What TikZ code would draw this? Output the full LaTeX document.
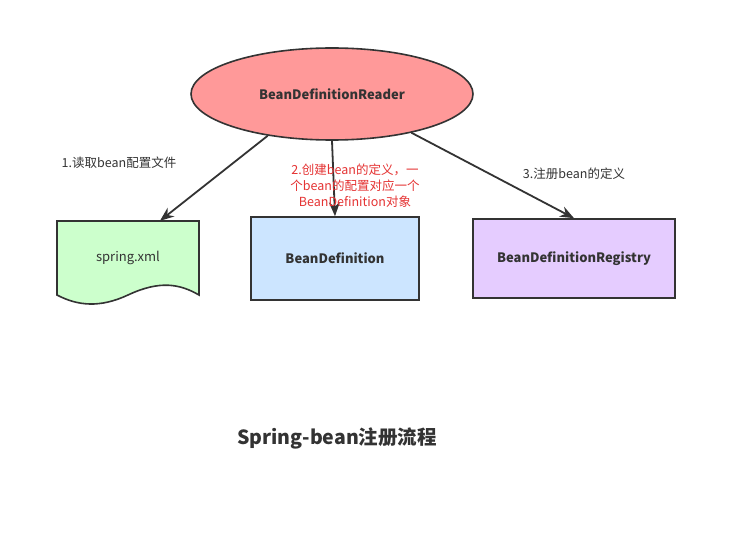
\documentclass[tikz,border=0pt]{standalone}
\usepackage{fontspec}
\setmainfont{Noto Sans CJK SC}
\usepackage{tikz}
\usetikzlibrary{shapes.geometric,arrows.meta}
\definecolor{linegray}{HTML}{333333}
\definecolor{readerred}{HTML}{FF9999}
\definecolor{xmlgreen}{HTML}{CCFFCC}
\definecolor{defblue}{HTML}{CCE5FF}
\definecolor{regpurple}{HTML}{E5CCFF}
\definecolor{notered}{HTML}{E53333}
\tikzset{%
  box/.style={
    rectangle,
    draw=linegray,
    line width=1.6pt,
    text=linegray,
    font=\fontsize{13}{15}\selectfont\bfseries
  },
  steplabel/.style={
    text=linegray,
    font=\fontsize{12.5}{16}\selectfont
  },
}

\begin{document}
\begin{tikzpicture}[x=1pt, y=-1pt, >={Stealth[length=14pt,width=11pt]}]

\useasboundingbox [fill=white] (0,0) rectangle (737,556);

% reader
\node [box, ellipse, fill=readerred, minimum width=282, minimum height=92]
  (reader) at (332,94) {BeanDefinitionReader};

% spring.xml document
\draw [box, fill=xmlgreen] (57,221) -- (199,221) -- (199,295)
  .. controls (180,284) and (160,280) .. (128,295)
  .. controls (100,308) and (78,306) .. (57,295) -- cycle;
\node [minimum width=142, minimum height=74, text=linegray,
  font=\fontsize{13}{15}\selectfont] (xml) at (128,258) {spring.xml};

% definition and registry
\node [box, fill=defblue, minimum width=168, minimum height=83]
  (def) at (335,258.5) {BeanDefinition};
\node [box, fill=regpurple, minimum width=202, minimum height=79]
  (reg) at (574,258.5) {BeanDefinitionRegistry};

%%%%%%%%%%%%%%%%%%%%%%%%%%%%%%%%%%%%%%%%%%%%%%%%%%%%%%%%%%%%%%%%%%%%%%%%%%%%%
% connections

\draw [->, draw=linegray, line width=1.8pt] (reader.213) -- ([xshift=32]xml.north);
\draw [->, draw=linegray, line width=1.8pt] (reader.south) -- (def.north);
\draw [->, draw=linegray, line width=1.8pt] (reader.-26) -- (reg.north);

%%%%%%%%%%%%%%%%%%%%%%%%%%%%%%%%%%%%%%%%%%%%%%%%%%%%%%%%%%%%%%%%%%%%%%%%%%%%%
% labels

\node [steplabel] (read) at (119,163) {1.读取bean配置文件};
\node [steplabel, text=notered, align=center] (create) at (355,186)
  {2.创建bean的定义，一\\个bean的配置对应一个\\BeanDefinition对象};
\node [steplabel] (register) at (574,174) {3.注册bean的定义};

\node [text=linegray, font=\fontsize{19.5}{22}\selectfont\bfseries]
  (title) at (337,438) {Spring-bean注册流程};

\end{tikzpicture}
\end{document}
